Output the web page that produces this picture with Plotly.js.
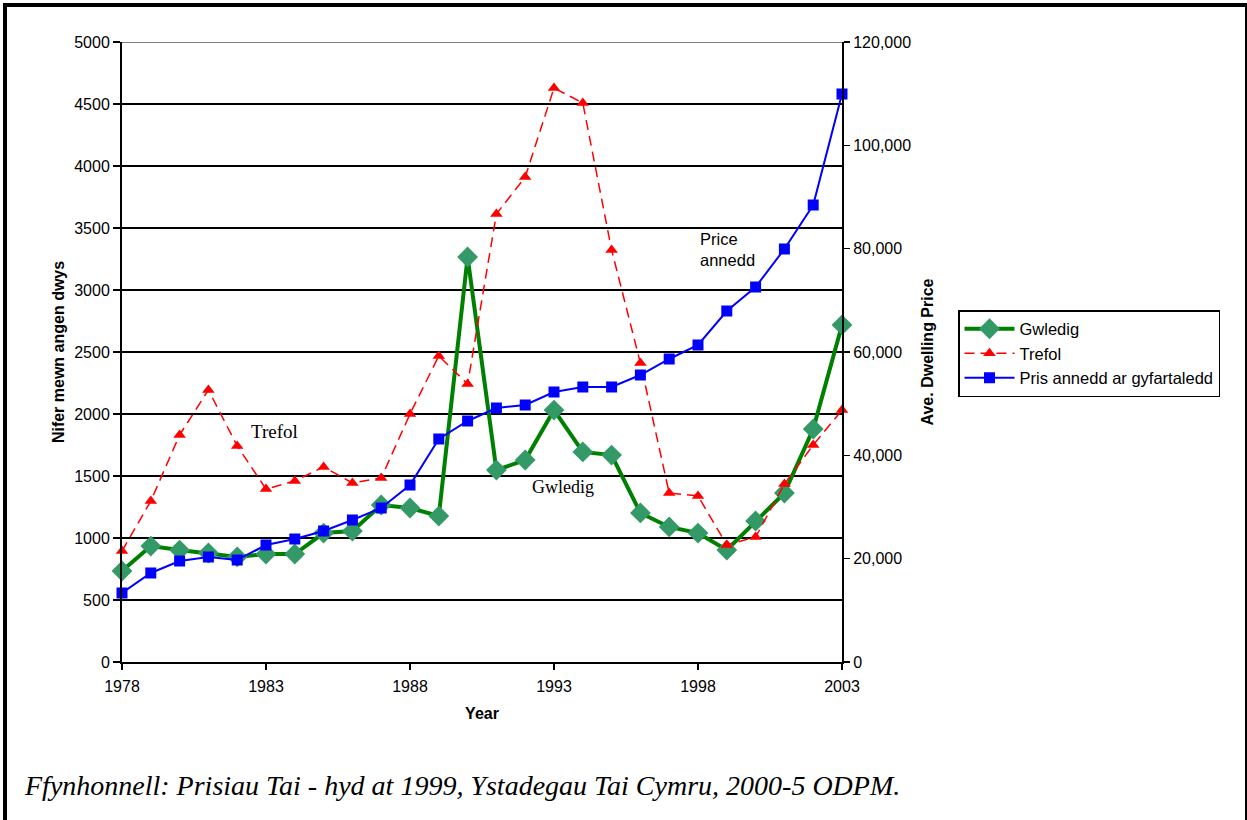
<!DOCTYPE html>
<html>
<head>
<meta charset="utf-8">
<script src="https://cdn.plot.ly/plotly-3.0.1.min.js"></script>
<style>
  html, body { margin: 0; padding: 0; background: #fff; }
  #frame { position: absolute; left: 3px; top: 3px; width: 1238px; height: 830px;
           border-left: 4px solid #000; border-top: 4px solid #000; border-right: 4px solid #000; pointer-events: none; z-index: 5; }
  #chart { width: 1247px; height: 820px; }
</style>
</head>
<body>
<div id="frame"></div>
<div id="chart"></div>
<script>
const years = [1978,1979,1980,1981,1982,1983,1984,1985,1986,1987,1988,1989,1990,
               1991,1992,1993,1994,1995,1996,1997,1998,1999,2000,2001,2002,2003];
const gwledig = [734,935,903,879,847,871,871,1040,1056,1266,1242,1177,3266,
                 1548,1629,2032,1694,1669,1202,1089,1040,903,1137,1363,1879,2718];
const trefol = [895,1298,1831,2194,1742,1395,1460,1573,1444,1484,2000,2468,2242,
                3613,3911,4629,4508,3323,2411,1363,1339,944,1008,1435,1750,2032];
const pris = [13355,17226,19548,20323,19742,22645,23806,25355,27484,29806,34258,43161,46645,
              49161,49742,52258,53226,53226,55548,58645,61355,67935,72581,79935,88452,109935];
const xTicks = [1978,1983,1988,1993,1998,2003];
const leftTicks = [0,500,1000,1500,2000,2500,3000,3500,4000,4500,5000];
const rightTicks = [0,20000,40000,60000,80000,100000,120000];

const traces = [
  { x: years, y: gwledig, name: 'Gwledig', type: 'scatter', mode: 'lines+markers',
    line: { color: '#008000', width: 4 },
    marker: { symbol: 'diamond', size: 16, color: '#339966' }, cliponaxis: false },
  { x: years, y: trefol, name: 'Trefol', type: 'scatter', mode: 'lines+markers',
    line: { color: '#ff0000', width: 1.5, dash: '10px,6px' },
    marker: { symbol: 'triangle-up', size: 11, color: '#ff0000' }, cliponaxis: false },
  { x: years, y: pris, name: 'Pris annedd ar gyfartaledd', type: 'scatter', mode: 'lines+markers',
    yaxis: 'y2',
    line: { color: '#0000ff', width: 2 },
    marker: { symbol: 'square', size: 11, color: '#0000ff' }, cliponaxis: false }
];

const SANS = 'Liberation Sans';
const SERIF = 'Liberation Serif';
const tickFont = { family: SANS, size: 16, color: '#000' };
const titleFont = { family: SANS, size: 16, color: '#000', weight: 'bold' };

const plotW = 1247 - 122 - 405, plotH = 820 - 42 - 158;

const layout = {
  width: 1247, height: 820,
  margin: { l: 122, r: 405, t: 42, b: 158 },
  paper_bgcolor: '#fff', plot_bgcolor: '#fff',
  showlegend: true,
  legend: {
    x: (958 - 122) / plotW, y: (662 - 310) / plotH, xanchor: 'left', yanchor: 'top',
    bgcolor: '#fff', bordercolor: '#000', borderwidth: 1.5,
    font: { family: SANS, size: 16.5, color: '#000' },
    tracegroupgap: 0, itemwidth: 50
  },
  xaxis: {
    range: [1978, 2003], tickvals: xTicks, ticktext: xTicks.map(String),
    showgrid: false, zeroline: false,
    showline: true, linecolor: '#000', linewidth: 2,
    ticks: 'outside', ticklen: 6, tickwidth: 1.5, tickcolor: '#000',
    tickfont: tickFont, ticklabelstandoff: 3,
    title: { text: 'Year', font: titleFont, standoff: 14 }
  },
  yaxis: {
    range: [0, 5000], tickvals: leftTicks,
    showgrid: true, gridcolor: '#000', gridwidth: 1.5, zeroline: false,
    showline: true, linecolor: '#000', linewidth: 2,
    ticks: 'outside', ticklen: 7, tickwidth: 1.5, tickcolor: '#000',
    tickfont: tickFont,
    title: { text: 'Nifer mewn angen dwys', font: titleFont, standoff: 6 }
  },
  yaxis2: {
    overlaying: 'y', side: 'right', range: [0, 120000], tickvals: rightTicks,
    tickformat: ',d',
    showgrid: false, zeroline: false,
    showline: true, linecolor: '#000', linewidth: 2,
    ticks: 'outside', ticklen: 6, tickwidth: 1.5, tickcolor: '#000',
    tickfont: tickFont,
    title: { text: 'Ave. Dwelling Price', font: titleFont, standoff: 12 }
  },
  shapes: [
    { type: 'line', xref: 'paper', yref: 'y', x0: 0, x1: 1, y0: 5000, y1: 5000,
      line: { color: '#808080', width: 2 } }
  ],
  annotations: [
    { x: 1983.3, y: 1855, xref: 'x', yref: 'y', text: 'Trefol', showarrow: false,
      font: { family: SERIF, size: 19, color: '#000' } },
    { x: 1993.3, y: 1411, xref: 'x', yref: 'y', text: 'Gwledig', showarrow: false,
      font: { family: SERIF, size: 18, color: '#000' } },
    { x: 1998.0, y: 3323, xref: 'x', yref: 'y', text: 'Price<br>annedd', showarrow: false,
      xanchor: 'left', align: 'left',
      font: { family: SANS, size: 16.5, color: '#000' } },
    { x: (22 - 122) / plotW, y: (662 - 785) / plotH, xref: 'paper', yref: 'paper', showarrow: false,
      xanchor: 'left', yanchor: 'middle',
      text: 'Ffynhonnell: Prisiau Tai - hyd at 1999, Ystadegau Tai Cymru, 2000-5 ODPM.',
      font: { family: SERIF, size: 28, color: '#000', style: 'italic' } }
  ]
};

Plotly.newPlot('chart', traces, layout, { displayModeBar: false, staticPlot: true });
</script>
</body>
</html>
